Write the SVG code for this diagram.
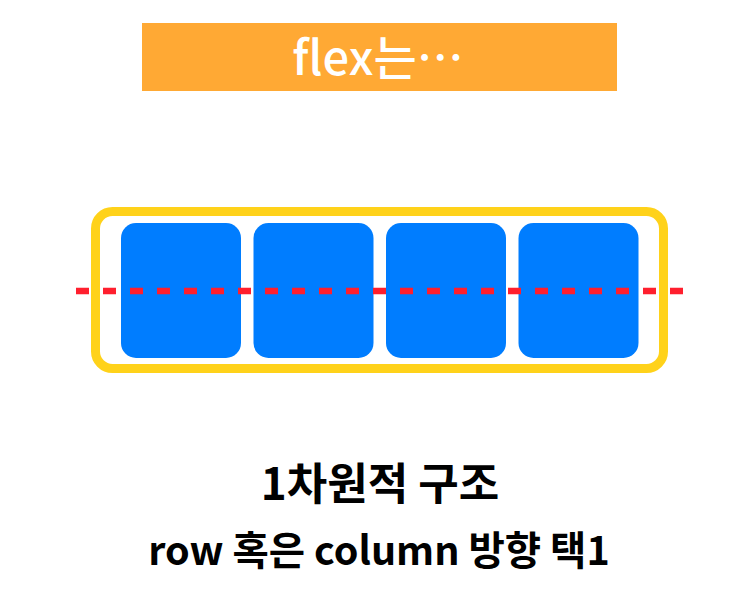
<svg xmlns="http://www.w3.org/2000/svg" width="739" height="591" viewBox="0 0 739 591">
<style>
.t{font-family:"Noto Sans CJK KR","Noto Sans",sans-serif;text-anchor:middle}
.box{fill:#007DFF}
</style>
<rect width="739" height="591" fill="#FFFFFF"/>
<g id="banner">
<rect x="142" y="23" width="475" height="68" fill="#FFA934"/>
<text class="t" x="378" y="75" font-size="47" font-weight="500" fill="#FFFFFF">flex는…</text>
</g>
<g id="container">
<rect x="95.5" y="211.5" width="568" height="157" rx="17" fill="none" stroke="#FFD21A" stroke-width="9"/>
</g>
<g id="item1"><rect class="box" x="121" y="223" width="120" height="135" rx="15"/></g>
<g id="item2"><rect class="box" x="253.5" y="223" width="120" height="135" rx="15"/></g>
<g id="item3"><rect class="box" x="386" y="223" width="120" height="135" rx="15"/></g>
<g id="item4"><rect class="box" x="518.5" y="223" width="120" height="135" rx="15"/></g>
<g id="connectors">
<line x1="76" y1="291" x2="683" y2="291" stroke="#FF1F2E" stroke-width="6.5" stroke-dasharray="13 14"/>
</g>
<g id="labels">
<text class="t" x="380" y="500" font-size="44" font-weight="700" fill="#000000">1차원적 구조</text>
<text class="t" x="379" y="565" font-size="39.5" font-weight="700" fill="#000000">row 혹은 column 방향 택1</text>
</g>
</svg>
